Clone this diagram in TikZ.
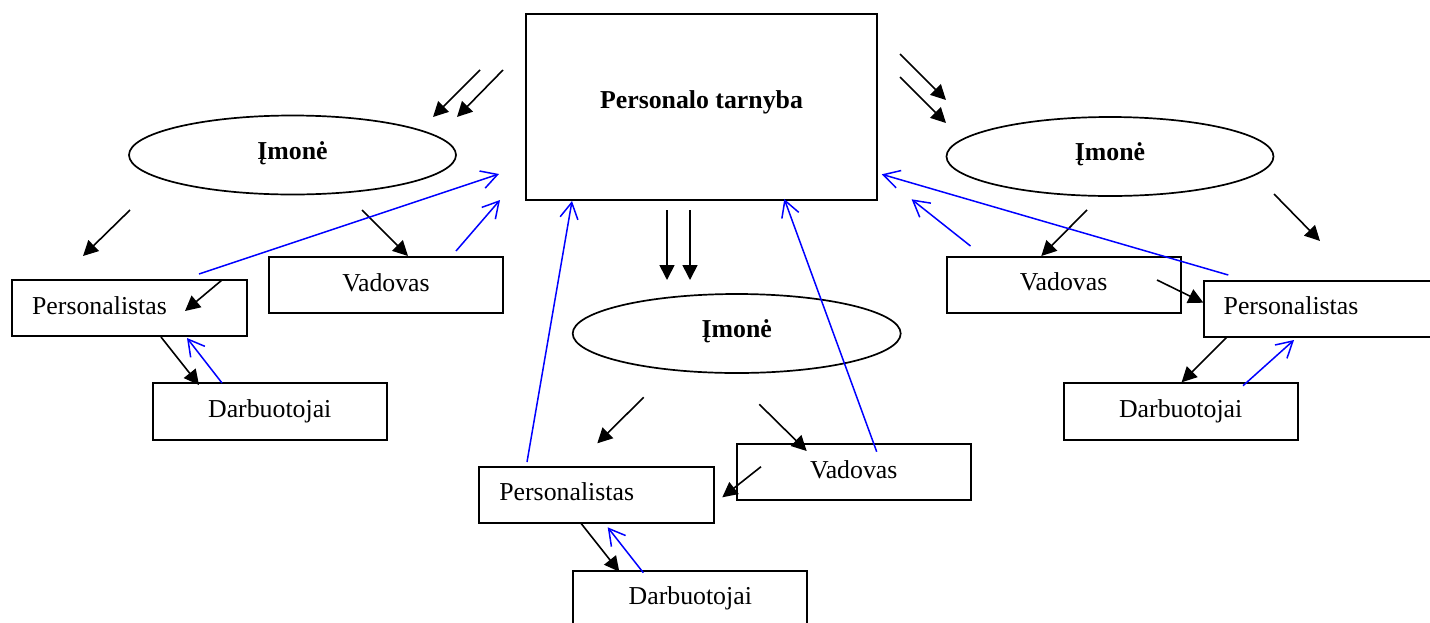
\documentclass[tikz,border=0pt]{standalone}
\usepackage{fontspec}
\setmainfont{Liberation Serif}
\usetikzlibrary{shapes.geometric,arrows.meta}
\begin{document}
\begin{tikzpicture}[x=1pt,y=-1pt,
  every node/.style={font=\fontsize{25.8}{30}\selectfont},
  box/.style={draw,line width=1.9pt,rectangle,inner sep=0pt,text height=18pt,text depth=6pt},
  plainbox/.style={box,minimum width=234pt,minimum height=56pt},
  leftbox/.style={box,text width=194.7pt,align=left,inner xsep=20pt,minimum height=56pt},
  oval/.style={draw,line width=1.7pt,ellipse,inner sep=0pt,minimum width=327pt,minimum height=79pt,
    font=\fontsize{25.8}{30}\selectfont\bfseries,text height=18pt,text depth=10pt},
  blk/.style={line width=1.6pt,-{Triangle[length=15pt,width=15pt]}},
  blu/.style={line width=1.5pt,blue,-{Straight Barb[length=16pt,width=18pt,line width=1.5pt]}}
]
\clip (0,0) rectangle (1430,622);
\fill[white] (0,0) rectangle (1430,622);

% nodes
\node[box,minimum width=351pt,minimum height=186pt,font=\fontsize{25.8}{30}\selectfont\bfseries,
  text height=18pt,text depth=16pt] (pt) at (701.5,107) {Personalo tarnyba};
\node[oval] (eL) at (292.5,155) {Įmonė};
\node[oval] (eR) at (1110,156.5) {Įmonė};
\node[oval,minimum width=328pt] (eC) at (736.7,333.5) {Įmonė};

\node[plainbox] (vL) at (386,285) {Vadovas};
\node[leftbox] (pL) at (129.5,308) {Personalistas};
\node[plainbox,minimum height=57pt] (dL) at (269.75,411.5) {Darbuotojai};

\node[plainbox] (vC) at (853.7,472) {Vadovas};
\node[leftbox] (pC) at (596.7,494.7) {Personalistas};
\node[plainbox] (dC) at (690.3,598.7) {Darbuotojai};

\node[plainbox] (vR) at (1063.6,284.7) {Vadovas};
\node[leftbox] (pR) at (1321,308.7) {Personalistas};
\node[plainbox,minimum height=57pt] (dR) at (1180.7,411.7) {Darbuotojai};

% coordinates (left group)
\coordinate (l1s) at (480,70);   \coordinate (l1e) at (433,117);
\coordinate (l2s) at (503,70);   \coordinate (l2e) at (457,117);
\coordinate (l3s) at (130,210);  \coordinate (l3e) at (83,256);
\coordinate (l4s) at (362,210);  \coordinate (l4e) at (408,256);
\coordinate (l5s) at (222,280);  \coordinate (l5e) at (185,311);
\coordinate (l6s) at (161,337);  \coordinate (l6e) at (199,385);
\coordinate (lb1s) at (199,274); \coordinate (lb1e) at (499,174);
\coordinate (lb2s) at (456,251); \coordinate (lb2e) at (500,200);
\coordinate (lb3s) at (222,383); \coordinate (lb3e) at (187,338);

% coordinates (centre group)
\coordinate (c1s) at (667,210);   \coordinate (c1e) at (667,280);
\coordinate (c2s) at (690,210);   \coordinate (c2e) at (690,280);
\coordinate (c3s) at (643.7,397.3); \coordinate (c3e) at (597.3,443.3);
\coordinate (c4s) at (759.3,404.3); \coordinate (c4e) at (806.7,451);
\coordinate (c5s) at (761,466.7); \coordinate (c5e) at (722.3,497.3);
\coordinate (c6s) at (581,523.3); \coordinate (c6e) at (619.3,571.7);
\coordinate (cb1s) at (527,462);  \coordinate (cb1e) at (572,201);
\coordinate (cb2s) at (876.7,451.7); \coordinate (cb2e) at (784.3,199);
\coordinate (cb3s) at (643.3,572.7); \coordinate (cb3e) at (607.7,527.3);

% coordinates (right group)
\coordinate (r1s) at (900,54);    \coordinate (r1e) at (946,100);
\coordinate (r2s) at (900,77);    \coordinate (r2e) at (946,123);
\coordinate (r3s) at (1087,210);  \coordinate (r3e) at (1041.3,256);
\coordinate (r4s) at (1274,194);  \coordinate (r4e) at (1320,241);
\coordinate (r5s) at (1157,280);  \coordinate (r5e) at (1203.4,302.7);
\coordinate (r6s) at (1227.2,336.7); \coordinate (r6e) at (1181.6,382.3);
\coordinate (rb1s) at (1228.3,275); \coordinate (rb1e) at (881.8,174.3);
\coordinate (rb2s) at (970.5,246);  \coordinate (rb2e) at (911.6,199.3);
\coordinate (rb3s) at (1243,385.7); \coordinate (rb3e) at (1294,340);

% black arrows
\foreach \a in {l1,l2,l3,l4,l5,l6,c1,c2,c3,c4,c5,c6,r1,r2,r3,r4,r5,r6}
  \draw[blk] (\a s) -- (\a e);
% blue arrows
\foreach \a in {lb1,lb2,lb3,cb1,cb2,cb3,rb1,rb2,rb3}
  \draw[blu] (\a s) -- (\a e);
\end{tikzpicture}
\end{document}
